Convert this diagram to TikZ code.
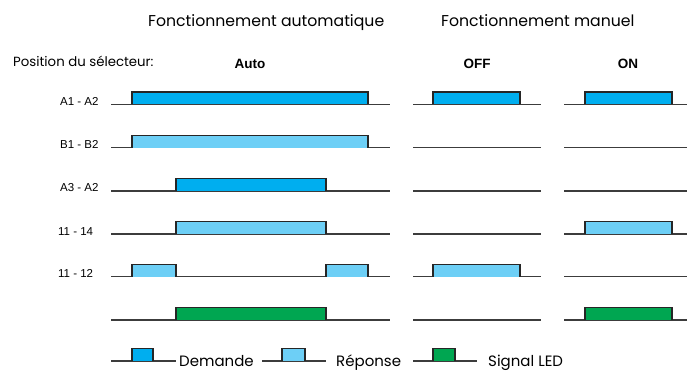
\documentclass[tikz,border=0pt]{standalone}
\usepackage{fontspec}
\setmainfont{Liberation Sans}
\newfontfamily\geo{Poppins}
\definecolor{demande}{HTML}{00AEEF}
\definecolor{reponse}{HTML}{6DCFF6}
\definecolor{ledgreen}{HTML}{00A651}
\definecolor{tracegray}{HTML}{3C3C3C}
\begin{document}
\begin{tikzpicture}[x=1pt,y=-1pt,
  tracelin/.style={draw=tracegray,line width=1.2pt},
  pulsebox/.style={draw=black!85,line width=1.2pt},
  txt/.style={inner sep=0pt,anchor=base west},
  title/.style={txt,font=\geo\fontsize{15.7}{16}\selectfont},
  rowlab/.style={txt,font=\fontsize{11.5}{11.5}\selectfont},
  modelab/.style={inner sep=0pt,anchor=base,font=\bfseries\fontsize{13.5}{13.5}\selectfont},
  legtxt/.style={txt,font=\geo\fontsize{15}{15}\selectfont}]
\useasboundingbox (0,0) rectangle (687,371);

% a raised pulse between #1 and #2 on the trace at height #3
\newcommand\pulseat[4]{\filldraw[pulsebox,fill=#4] (#1,#3) -- (#1,#3-12.5) -- (#2,#3-12.5) -- (#2,#3);}

% headings
\node[title] (hauto) at (148,27) {Fonctionnement automatique};
\node[title] (hman) at (441,27) {Fonctionnement manuel};
\node[txt,font=\geo\fontsize{13.3}{13}\selectfont] (pos) at (13,67) {Position du sélecteur:};
\node[modelab] (mauto) at (250,68.5) {Auto};
\node[modelab] (moff) at (477,68.5) {OFF};
\node[modelab] (mon) at (628,68.5) {ON};

% row labels
\node[rowlab] (l1) at (60,105.5) {A1 - A2};
\node[rowlab] (l2) at (60,148.7) {B1 - B2};
\node[rowlab] (l3) at (60,192) {A3 - A2};
\node[rowlab] (l4) at (58,235) {11 - 14};
\node[rowlab] (l5) at (58,277.7) {11 - 12};

% flat traces of the three columns
\foreach \y in {104.5,147.7,191,234,276.7,320}{
  \draw[tracelin] (111,\y) -- (390,\y);
  \draw[tracelin] (413,\y) -- (541,\y);
  \draw[tracelin] (564,\y) -- (687,\y);
}

% automatic operation
\pulseat{132}{368}{104.5}{demande}
\pulseat{132}{368}{147.7}{reponse}
\pulseat{176}{326}{191}{demande}
\pulseat{176}{326}{234}{reponse}
\pulseat{132}{176}{276.7}{reponse}
\pulseat{326}{368}{276.7}{reponse}
\pulseat{176}{326}{320}{ledgreen}

% manual operation, OFF
\pulseat{433}{520}{104.5}{demande}
\pulseat{433}{520}{276.7}{reponse}

% manual operation, ON
\pulseat{585}{672}{104.5}{demande}
\pulseat{585}{672}{234}{reponse}
\pulseat{585}{672}{320}{ledgreen}

% legend
\draw[tracelin] (111,361) -- (176,361);
\pulseat{132}{153}{361}{demande}
\node[legtxt] (ld) at (179,366) {Demande};
\draw[tracelin] (262,361) -- (326,361);
\pulseat{282}{305}{361}{reponse}
\node[legtxt] (lr) at (336,366) {Réponse};
\draw[tracelin] (413,361) -- (477,361);
\pulseat{433}{455}{361}{ledgreen}
\node[legtxt] (ll) at (488,366) {Signal LED};
\end{tikzpicture}
\end{document}
